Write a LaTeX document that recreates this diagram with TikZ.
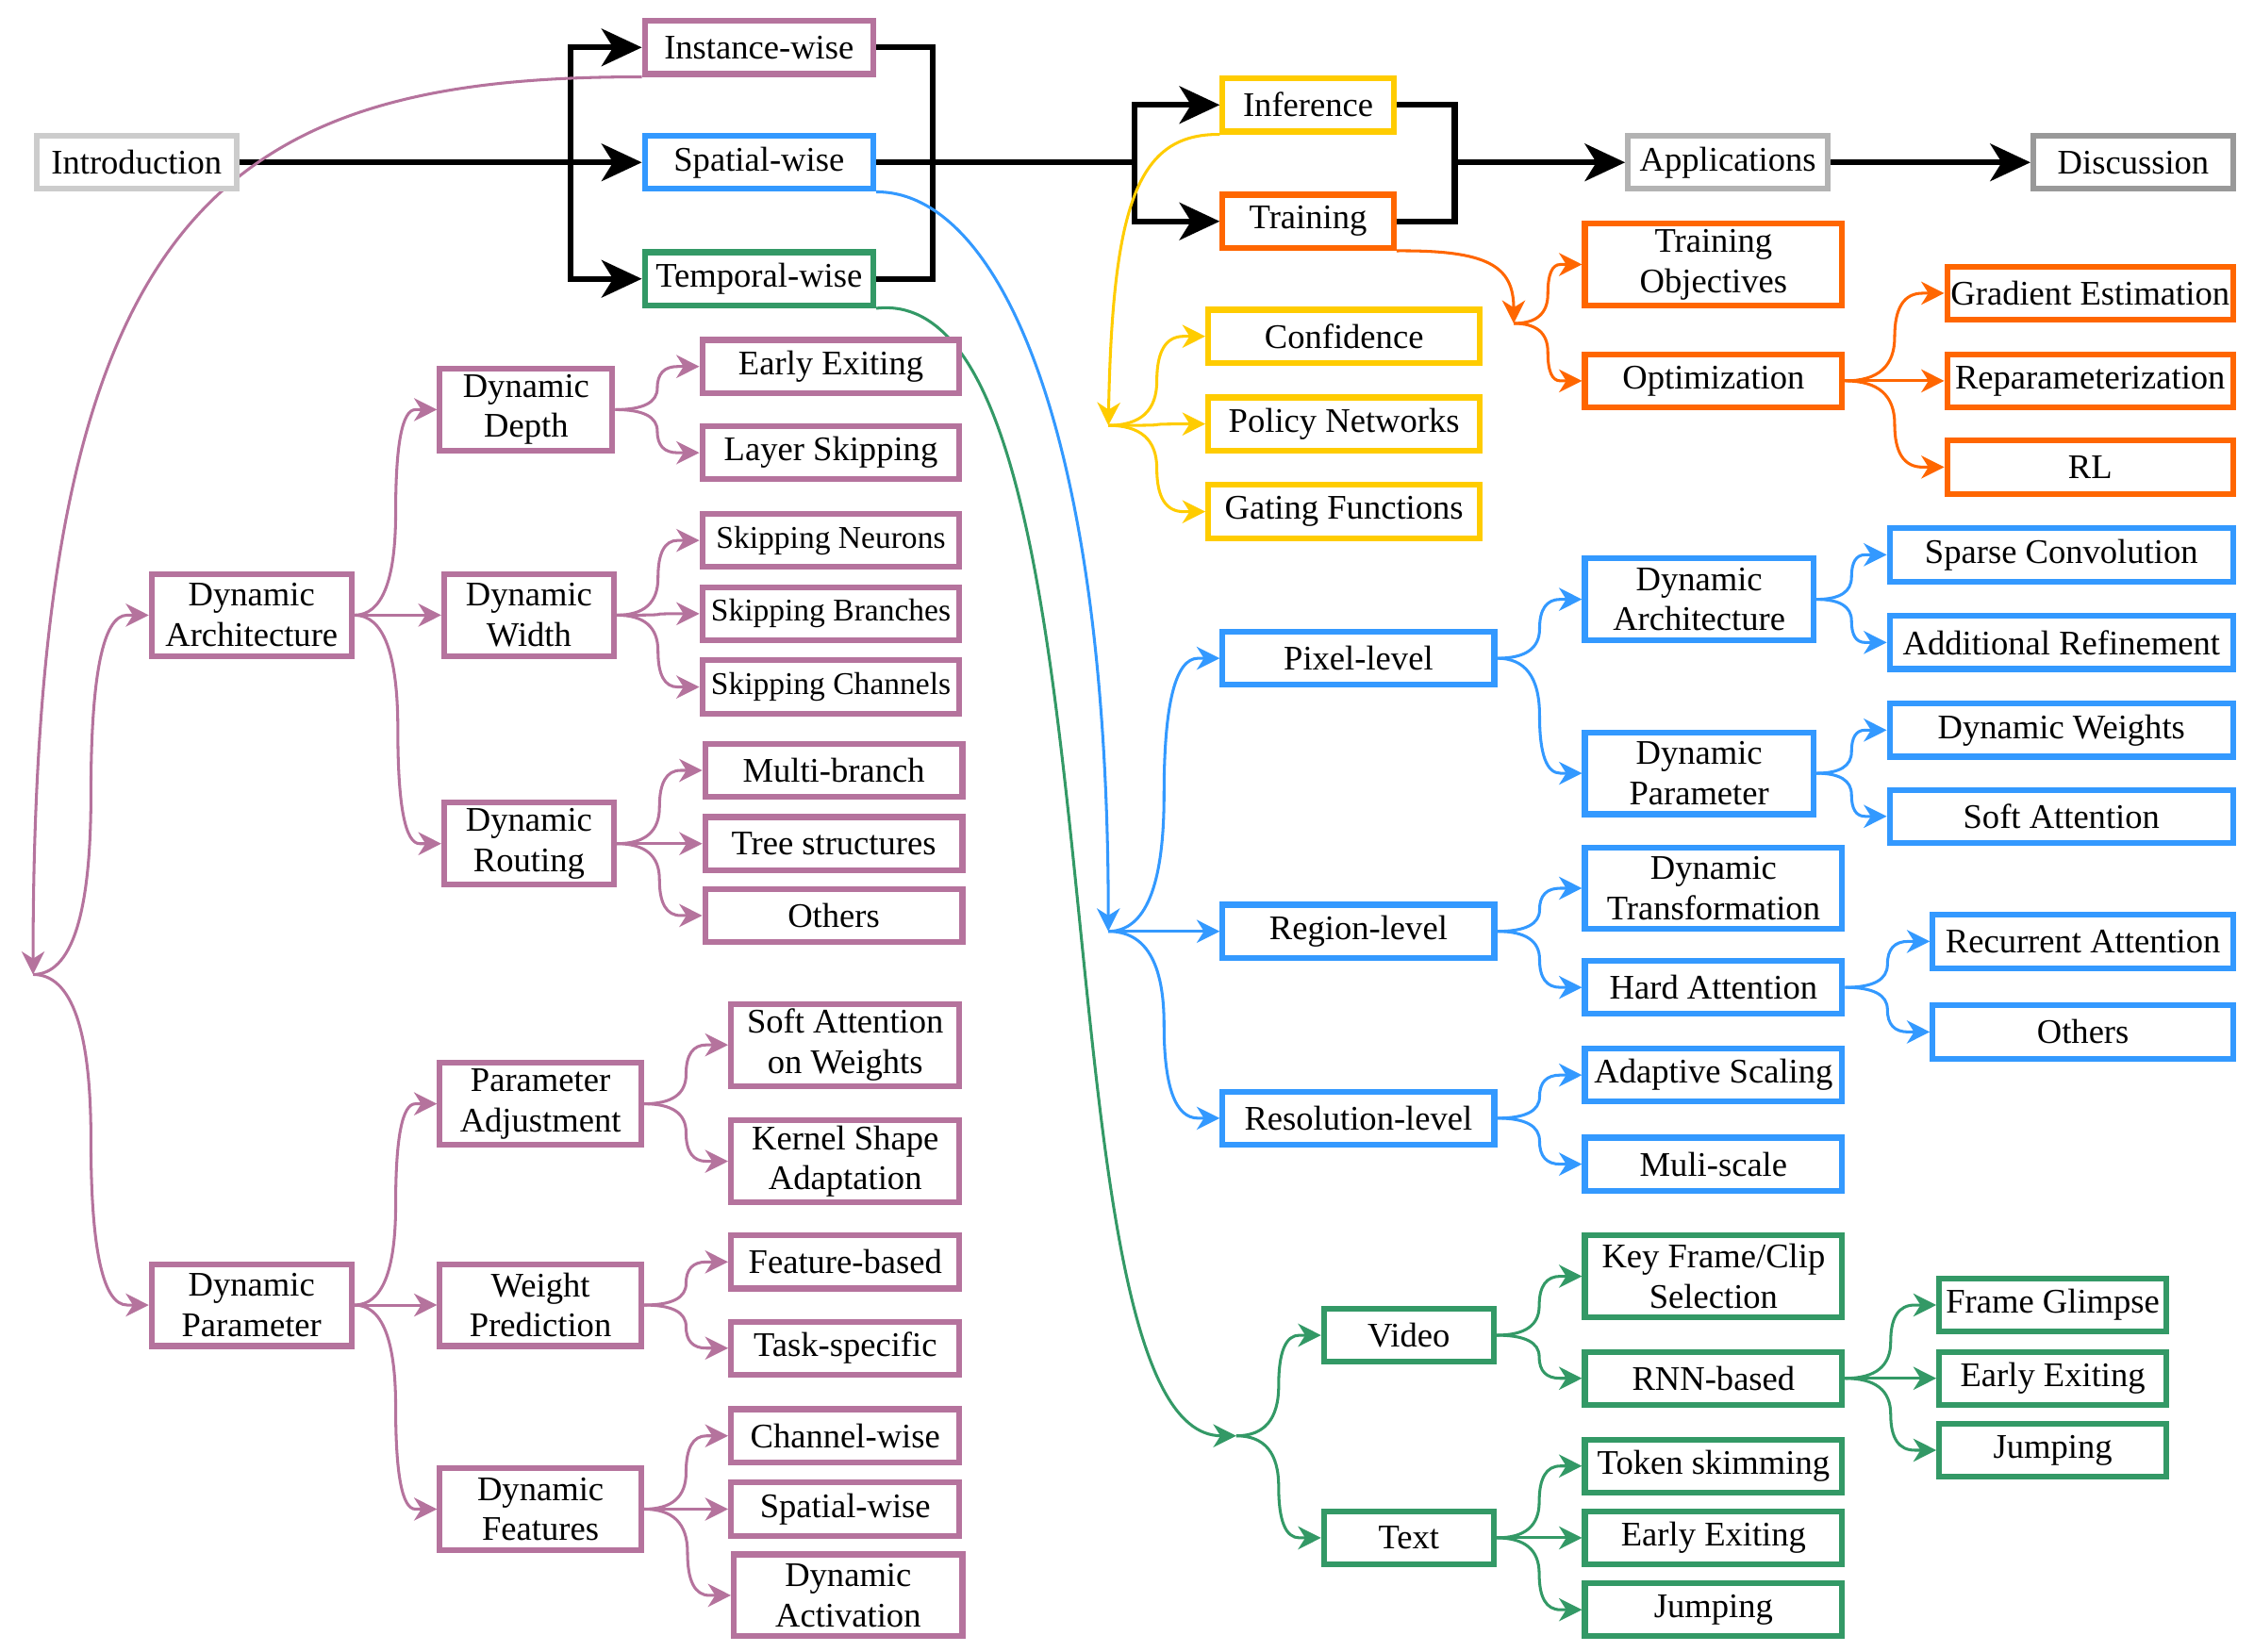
\documentclass[tikz,border=0pt]{standalone}
\usepackage{fontspec}
\setmainfont{Liberation Serif}
\usetikzlibrary{arrows.meta,calc}
\pgfdeclarelayer{bg}
\pgfsetlayers{bg,main}
\definecolor{cpur}{HTML}{B5739D}
\definecolor{cblu}{HTML}{3399FF}
\definecolor{cgrn}{HTML}{339966}
\definecolor{cyel}{HTML}{FFCC00}
\definecolor{cora}{HTML}{FF6600}
\definecolor{cgA}{HTML}{CCCCCC}
\definecolor{cgB}{HTML}{B3B3B3}
\definecolor{cgC}{HTML}{999999}
\tikzset{
 box/.style={draw=#1, line width=4pt, fill=white, inner sep=0pt, align=center,
   font=\fontsize{24}{28}\selectfont, minimum height=37pt},
 tall/.style={minimum height=57pt},
 blk/.style={line width=4pt, -{Stealth[length=28pt,width=26pt,inset=8pt]}},
 blkl/.style={line width=4pt},
 con/.style={draw=#1, line width=2pt, -{Stealth[length=16pt,width=16pt,inset=5pt]}},
 br/.style={to path={let \p1=(\tikztostart), \p2=(\tikztotarget),
   \n1={(\x1+\x2)/2}, \n2={(\y1+\y2)/2}, \n3={\x2-15pt} in
   .. controls ({\x1+2/3*(\n1-\x1)},\y1) and (\n1,{\n2+2/3*(\y1-\n2)}) .. (\n1,\n2)
   .. controls (\n1,{\n2+2/3*(\y2-\n2)}) and ({\n3+2/3*(\n1-\n3)},\y2) .. (\n3,\y2)
   -- (\p2)}},
}
\begin{document}
\begin{tikzpicture}[x=1pt,y=-1pt]
\useasboundingbox (0,0) rectangle (1568,1149.4);
% ---------- top row ----------
\node[box=cgA, minimum width=139pt] (intro) at (95,113) {Introduction};
\node[box=cpur, minimum width=159pt] (inst) at (528,33) {Instance-wise};
\node[box=cblu, minimum width=159pt] (spat) at (528,113) {Spatial-wise};
\node[box=cgrn, minimum width=159pt] (temp) at (528,194) {Temporal-wise};
\node[box=cyel, minimum width=119pt] (infer) at (910,73) {Inference};
\node[box=cora, minimum width=119pt] (train) at (910,154) {Training};
\node[box=cgB, minimum width=139pt] (appl) at (1202,113) {Applications};
\node[box=cgC, minimum width=139pt] (disc) at (1484,113) {Discussion};
% ---------- orange ----------
\node[box=cora, tall, minimum width=179pt] (tobj) at (1192,184) {Training\\Objectives};
\node[box=cora, minimum width=179pt] (opt) at (1192,265) {Optimization};
\node[box=cora, minimum width=199pt] (grad) at (1454,204) {Gradient Estimation};
\node[box=cora, minimum width=199pt] (repar) at (1454,265) {Reparameterization};
\node[box=cora, minimum width=199pt] (rl) at (1454,325) {RL};
% ---------- yellow ----------
\node[box=cyel, minimum width=189pt] (conf) at (935,234) {Confidence};
\node[box=cyel, minimum width=189pt] (policy) at (935,295) {Policy Networks};
\node[box=cyel, minimum width=189pt] (gating) at (935,356) {Gating Functions};
% ---------- blue ----------
\node[box=cblu, minimum width=189pt] (pixel) at (945,458) {Pixel-level};
\node[box=cblu, minimum width=189pt] (region) at (945,648) {Region-level};
\node[box=cblu, minimum width=189pt] (resol) at (945,778) {Resolution-level};
\node[box=cblu, tall, minimum width=159pt] (bdarch) at (1182,417) {Dynamic\\Architecture};
\node[box=cblu, tall, minimum width=159pt] (bdparam) at (1182,538) {Dynamic\\Parameter};
\node[box=cblu, minimum width=239pt] (sparse) at (1434,386) {Sparse Convolution};
\node[box=cblu, minimum width=239pt] (addref) at (1434,447) {Additional Refinement};
\node[box=cblu, minimum width=239pt] (dynw) at (1434,508) {Dynamic Weights};
\node[box=cblu, minimum width=239pt] (softatt) at (1434,568) {Soft Attention};
\node[box=cblu, tall, minimum width=179pt] (dyntrans) at (1192,618) {Dynamic\\Transformation};
\node[box=cblu, minimum width=179pt] (hardatt) at (1192,687) {Hard Attention};
\node[box=cblu, minimum width=209pt] (recatt) at (1449,655) {Recurrent Attention};
\node[box=cblu, minimum width=209pt] (bothers) at (1449,718) {Others};
\node[box=cblu, minimum width=179pt] (adapt) at (1192,748) {Adaptive Scaling};
\node[box=cblu, minimum width=179pt] (muli) at (1192,810) {Muli-scale};
% ---------- green ----------
\node[box=cgrn, minimum width=118pt] (video) at (980,929) {Video};
\node[box=cgrn, minimum width=118pt] (text) at (980,1070) {Text};
\node[box=cgrn, tall, minimum width=179pt] (keyf) at (1192,888) {Key Frame/Clip\\Selection};
\node[box=cgrn, minimum width=179pt] (rnn) at (1192,959) {RNN-based};
\node[box=cgrn, minimum width=158pt] (glimpse) at (1428,908) {Frame Glimpse};
\node[box=cgrn, minimum width=158pt] (gearly) at (1428,959) {Early Exiting};
\node[box=cgrn, minimum width=158pt] (gjump) at (1428,1009) {Jumping};
\node[box=cgrn, minimum width=179pt] (token) at (1192,1020) {Token skimming};
\node[box=cgrn, minimum width=179pt] (tearly) at (1192,1070) {Early Exiting};
\node[box=cgrn, minimum width=179pt] (tjump) at (1192,1120) {Jumping};
% ---------- purple ----------
\node[box=cpur, tall, minimum width=139pt] (pdarch) at (175,428) {Dynamic\\Architecture};
\node[box=cpur, tall, minimum width=120pt] (pdepth) at (366,285) {Dynamic\\Depth};
\node[box=cpur, minimum width=179pt] (pearly) at (578,255) {Early Exiting};
\node[box=cpur, minimum width=179pt] (player) at (578,315) {Layer Skipping};
\node[box=cpur, tall, minimum width=118pt] (pwidth) at (368,428) {Dynamic\\Width};
\node[box=cpur, minimum width=179pt, font=\fontsize{22}{26}\selectfont] (pneur) at (578,376) {Skipping Neurons};
\node[box=cpur, minimum width=179pt, font=\fontsize{22}{26}\selectfont] (pbranch) at (578,427) {Skipping Branches};
\node[box=cpur, minimum width=179pt, font=\fontsize{22}{26}\selectfont] (pchan) at (578,478) {Skipping Channels};
\node[box=cpur, tall, minimum width=118pt] (prout) at (368,587) {Dynamic\\Routing};
\node[box=cpur, minimum width=179pt] (pmulti) at (580,536) {Multi-branch};
\node[box=cpur, minimum width=179pt] (ptree) at (580,587) {Tree structures};
\node[box=cpur, minimum width=179pt] (pothers) at (580,637) {Others};
\node[box=cpur, tall, minimum width=139pt] (pdparam) at (175,908) {Dynamic\\Parameter};
\node[box=cpur, tall, minimum width=140pt] (padj) at (376,768) {Parameter\\Adjustment};
\node[box=cpur, tall, minimum width=159pt] (psoftw) at (588,727) {Soft Attention\\on Weights};
\node[box=cpur, tall, minimum width=159pt] (pkernel) at (588,808) {Kernel Shape\\Adaptation};
\node[box=cpur, tall, minimum width=140pt] (pwpred) at (376,908) {Weight\\Prediction};
\node[box=cpur, minimum width=159pt] (pfeat) at (588,878) {Feature-based};
\node[box=cpur, minimum width=159pt] (ptask) at (588,938) {Task-specific};
\node[box=cpur, tall, minimum width=140pt] (pdfeat) at (376,1050) {Dynamic\\Features};
\node[box=cpur, minimum width=159pt] (pchanw) at (588,999) {Channel-wise};
\node[box=cpur, minimum width=159pt] (pspatw) at (588,1050) {Spatial-wise};
\node[box=cpur, tall, minimum width=159pt] (pdact) at (590,1110) {Dynamic\\Activation};
% ---------- junction points ----------
\coordinate (b1) at (397,113);
\coordinate (b2) at (649,113);
\coordinate (b3) at (789,113);
\coordinate (b4) at (1012,113);
\coordinate (oj) at (1053,225);
\coordinate (yj) at (771,296);
\coordinate (bj) at (771,648);
\coordinate (gj) at (860,999);
\coordinate (pj) at (23,678);
\begin{pgfonlayer}{bg}
% black connectors
\draw[blk] (intro.east) -- (spat.west);
\draw[blk] (b1) |- (inst.west);
\draw[blk] (b1) |- (temp.west);
\draw[blkl] (inst.east) -| (b2);
\draw[blkl] (temp.east) -| (b2);
\draw[blkl] (spat.east) -- (b3);
\draw[blk] (b3) |- (infer.west);
\draw[blk] (b3) |- (train.west);
\draw[blkl] (infer.east) -| (b4);
\draw[blkl] (train.east) -| (b4);
\draw[blk] (b4) -- (appl.west);
\draw[blk] (appl.east) -- (disc.west);
% orange
\draw[con=cora] (train.south east) .. controls (1035,174) and (1053,185) .. (oj);
\draw[con=cora] (oj) to[br] (tobj.west);
\draw[con=cora] (oj) to[br] (opt.west);
\draw[con=cora] (opt.east) to[br] (grad.west);
\draw[con=cora] (opt.east) to[br] (repar.west);
\draw[con=cora] (opt.east) to[br] (rl.west);
% yellow
\draw[con=cyel] (infer.south west) .. controls (792,93) and (774,140) .. (yj);
\draw[con=cyel] (yj) to[br] (conf.west);
\draw[con=cyel] (yj) to[br] (policy.west);
\draw[con=cyel] (yj) to[br] (gating.west);
% blue
\draw[con=cblu] (spat.south east) .. controls (695,133) and (771,300) .. (bj);
\draw[con=cblu] (bj) to[br] (pixel.west);
\draw[con=cblu] (bj) to[br] (region.west);
\draw[con=cblu] (bj) to[br] (resol.west);
\draw[con=cblu] (pixel.east) to[br] (bdarch.west);
\draw[con=cblu] (pixel.east) to[br] (bdparam.west);
\draw[con=cblu] (bdarch.east) to[br] (sparse.west);
\draw[con=cblu] (bdarch.east) to[br] (addref.west);
\draw[con=cblu] (bdparam.east) to[br] (dynw.west);
\draw[con=cblu] (bdparam.east) to[br] (softatt.west);
\draw[con=cblu] (region.east) to[br] (dyntrans.west);
\draw[con=cblu] (region.east) to[br] (hardatt.west);
\draw[con=cblu] (hardatt.east) to[br] (recatt.west);
\draw[con=cblu] (hardatt.east) to[br] (bothers.west);
\draw[con=cblu] (resol.east) to[br] (adapt.west);
\draw[con=cblu] (resol.east) to[br] (muli.west);
% green
\draw[con=cgrn] (temp.south east) .. controls (790,194) and (715,999) .. (gj);
\draw[con=cgrn] (gj) to[br] (video.west);
\draw[con=cgrn] (gj) to[br] (text.west);
\draw[con=cgrn] (video.east) to[br] (keyf.west);
\draw[con=cgrn] (video.east) to[br] (rnn.west);
\draw[con=cgrn] (rnn.east) to[br] (glimpse.west);
\draw[con=cgrn] (rnn.east) to[br] (gearly.west);
\draw[con=cgrn] (rnn.east) to[br] (gjump.west);
\draw[con=cgrn] (text.east) to[br] (token.west);
\draw[con=cgrn] (text.east) to[br] (tearly.west);
\draw[con=cgrn] (text.east) to[br] (tjump.west);
% purple
\draw[con=cpur] (inst.south west) .. controls (150,53) and (23,150) .. (pj);
\draw[con=cpur] (pj) to[br] (pdarch.west);
\draw[con=cpur] (pj) to[br] (pdparam.west);
\draw[con=cpur] (pdarch.east) to[br] (pdepth.west);
\draw[con=cpur] (pdarch.east) to[br] (pwidth.west);
\draw[con=cpur] (pdarch.east) to[br] (prout.west);
\draw[con=cpur] (pdepth.east) to[br] (pearly.west);
\draw[con=cpur] (pdepth.east) to[br] (player.west);
\draw[con=cpur] (pwidth.east) to[br] (pneur.west);
\draw[con=cpur] (pwidth.east) to[br] (pbranch.west);
\draw[con=cpur] (pwidth.east) to[br] (pchan.west);
\draw[con=cpur] (prout.east) to[br] (pmulti.west);
\draw[con=cpur] (prout.east) to[br] (ptree.west);
\draw[con=cpur] (prout.east) to[br] (pothers.west);
\draw[con=cpur] (pdparam.east) to[br] (padj.west);
\draw[con=cpur] (pdparam.east) to[br] (pwpred.west);
\draw[con=cpur] (pdparam.east) to[br] (pdfeat.west);
\draw[con=cpur] (padj.east) to[br] (psoftw.west);
\draw[con=cpur] (padj.east) to[br] (pkernel.west);
\draw[con=cpur] (pwpred.east) to[br] (pfeat.west);
\draw[con=cpur] (pwpred.east) to[br] (ptask.west);
\draw[con=cpur] (pdfeat.east) to[br] (pchanw.west);
\draw[con=cpur] (pdfeat.east) to[br] (pspatw.west);
\draw[con=cpur] (pdfeat.east) to[br] (pdact.west);
\end{pgfonlayer}
\end{tikzpicture}
\end{document}
